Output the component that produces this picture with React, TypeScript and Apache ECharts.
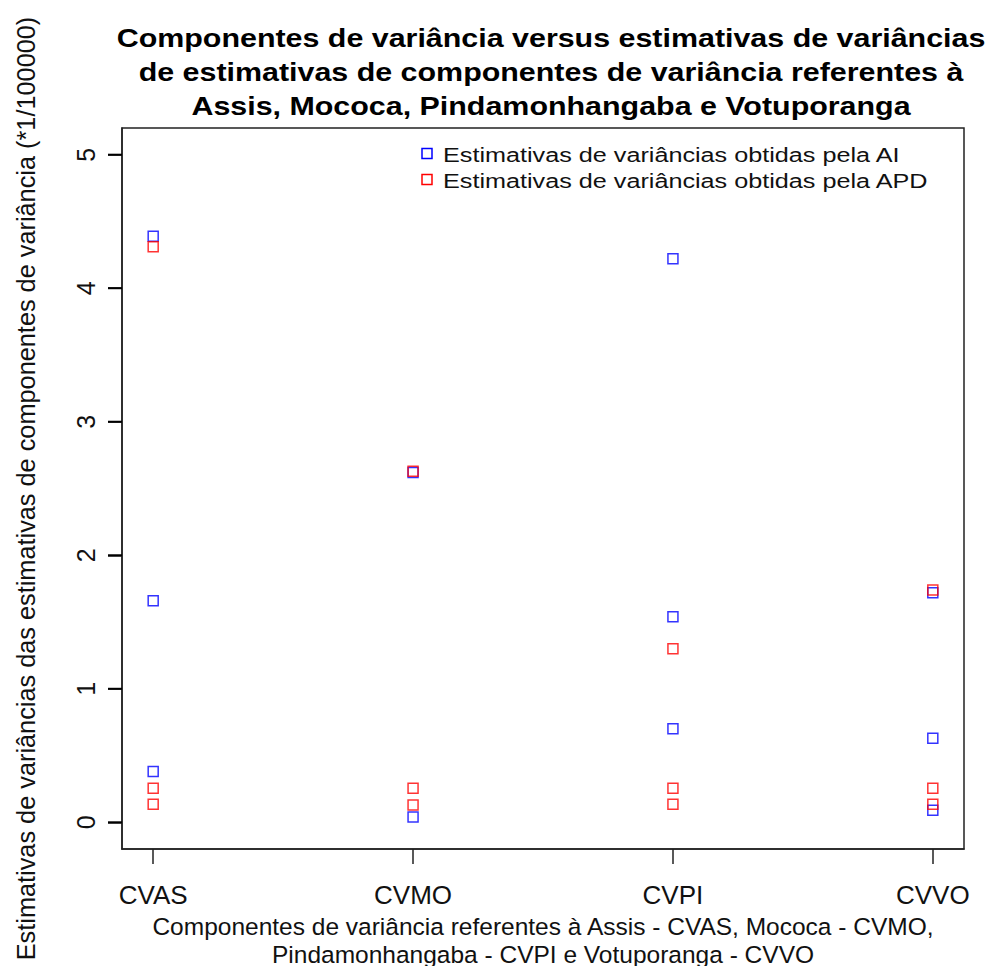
import React, { useEffect, useRef } from "react";
import * as echarts from "echarts";

const categories = ["CVAS", "CVMO", "CVPI", "CVVO"];
const seriesNames = [
  "Estimativas de variâncias obtidas pela AI",
  "Estimativas de variâncias obtidas pela APD",
];
// values per category (index aligned with categories)
const aiValues: number[][] = [
  [4.39, 1.66, 0.38],
  [2.62, 0.04],
  [4.22, 1.54, 0.7],
  [1.72, 0.63, 0.09],
];
const apdValues: number[][] = [
  [4.31, 0.255, 0.135],
  [2.63, 0.255, 0.13],
  [1.3, 0.255, 0.135],
  [1.74, 0.255, 0.135],
];
const yTicks = [0, 1, 2, 3, 4, 5];
const titleLines = [
  "Componentes de variância versus estimativas de variâncias",
  "de estimativas de componentes de variância referentes à",
  "Assis, Mococa, Pindamonhangaba e Votuporanga",
];
const xTitle =
  "Componentes de variância referentes à Assis - CVAS, Mococa - CVMO,\nPindamonhangaba - CVPI e Votuporanga - CVVO";
const yTitle =
  "Estimativas de variâncias das estimativas de componentes de variância (*1/100000)";

const X_MIN = 0.88;
const X_MAX = 4.12;
const Y_MIN = -0.2;
const Y_MAX = 5.2;

const FONT = "'Liberation Sans', Arial, sans-serif";

function toPoints(vals: number[][]) {
  const pts: number[][] = [];
  vals.forEach((arr, i) => arr.forEach((v) => pts.push([i + 1, v])));
  return pts;
}

export default function App() {
  const ref = useRef<HTMLDivElement>(null);
  useEffect(() => {
    if (!ref.current) return;
    const chart = echarts.init(ref.current, null, { renderer: "svg" });
    const colors = ["#0000ff", "#ff0000"];
    const baseGraphic: any[] = [
      {
        type: "text",
        id: "title",
        x: 551,
        y: 21,
        scaleX: 1.17,
        style: {
          text: titleLines.join("\n"),
          fontSize: 26,
          fontWeight: "bold",
          fontFamily: FONT,
          fill: "#000",
          align: "center",
          verticalAlign: "top",
          lineHeight: 34,
        },
      },
      ...seriesNames.flatMap((name, i) => [
        {
          type: "rect",
          id: "legIcon" + i,
          shape: { x: 422, y: 148.5 + i * 26, width: 10, height: 10 },
          style: { fill: "none", stroke: colors[i], lineWidth: 1.5 },
        },
        {
          type: "text",
          id: "legText" + i,
          x: 443,
          y: 155 + i * 26,
          scaleX: 1.2,
          style: {
            text: name,
            fontSize: 21,
            fontFamily: FONT,
            fill: "#111",
            align: "left",
            verticalAlign: "middle",
          },
        },
      ]),
    ];
    chart.setOption({
      animation: false,
      backgroundColor: "#ffffff",
      grid: {
        left: 122,
        right: 29,
        top: 128,
        bottom: 117,
        show: true,
        borderColor: "#222",
        borderWidth: 1.5,
        backgroundColor: "transparent",
        containLabel: false,
        outerBoundsMode: "none",
      },
      xAxis: {
        type: "value",
        min: X_MIN,
        max: X_MAX,
        splitLine: { show: false },
        axisLine: { show: true, onZero: false, lineStyle: { color: "#222", width: 1.5 } },
        axisTick: {
          show: true,
          length: 15,
          lineStyle: { color: "#222", width: 1.5 },
          customValues: categories.map((_, i) => i + 1),
        },
        axisLabel: {
          show: true,
          margin: 33,
          fontSize: 26,
          fontFamily: FONT,
          color: "#111",
          customValues: categories.map((_, i) => i + 1),
          formatter: (v: number) => categories[Math.round(v) - 1] ?? "",
        },
        name: xTitle,
        nameLocation: "middle",
        nameGap: 55,
        nameTextStyle: {
          fontSize: 24.5,
          fontFamily: FONT,
          color: "#111",
          lineHeight: 28,
        },
      },
      yAxis: {
        type: "value",
        min: Y_MIN,
        max: Y_MAX,
        position: "left",
        splitLine: { show: false },
        axisLine: { show: true, onZero: false, lineStyle: { color: "#222", width: 1.5 } },
        axisTick: {
          show: true,
          inside: false,
          length: 14,
          lineStyle: { color: "#222", width: 1.5 },
          customValues: yTicks,
        },
        axisLabel: {
          show: true,
          rotate: 90,
          margin: 24,
          fontSize: 25,
          fontFamily: FONT,
          color: "#111",
          customValues: yTicks,
        },
        name: yTitle,
        nameLocation: "middle",
        nameRotate: 90,
        nameGap: 84,
        nameTextStyle: { fontSize: 25.3, fontFamily: FONT, color: "#111" },
      },
      series: [
        {
          name: seriesNames[0],
          type: "scatter",
          symbol: "rect",
          symbolSize: 10,
          data: toPoints(aiValues),
          itemStyle: {
            color: "transparent",
            borderColor: colors[0],
            borderWidth: 1.5,
          },
          z: 2,
        },
        {
          name: seriesNames[1],
          type: "scatter",
          symbol: "rect",
          symbolSize: 10,
          data: toPoints(apdValues),
          itemStyle: {
            color: "transparent",
            borderColor: colors[1],
            borderWidth: 1.5,
          },
          z: 3,
        },
      ],
      graphic: baseGraphic,
    });
    // y-axis tick marks, placed through the chart's own scale
    const tickGraphics = yTicks.map((v, i) => {
      const p = chart.convertToPixel({ xAxisIndex: 0, yAxisIndex: 0 }, [X_MIN, v]) as number[];
      return {
        type: "polyline",
        id: "ytick" + i,
        z: 1000,
        shape: { points: [[p[0] - 14, p[1]], [p[0], p[1]]] },
        style: { stroke: "#000", lineWidth: 2, fill: "none" },
      };
    });
    chart.setOption({ graphic: [...baseGraphic, ...tickGraphics] });
    return () => chart.dispose();
  }, []);
  return (
    <div
      ref={ref}
      style={{ position: "absolute", left: 0, top: 0, width: 993, height: 966 }}
    />
  );
}
